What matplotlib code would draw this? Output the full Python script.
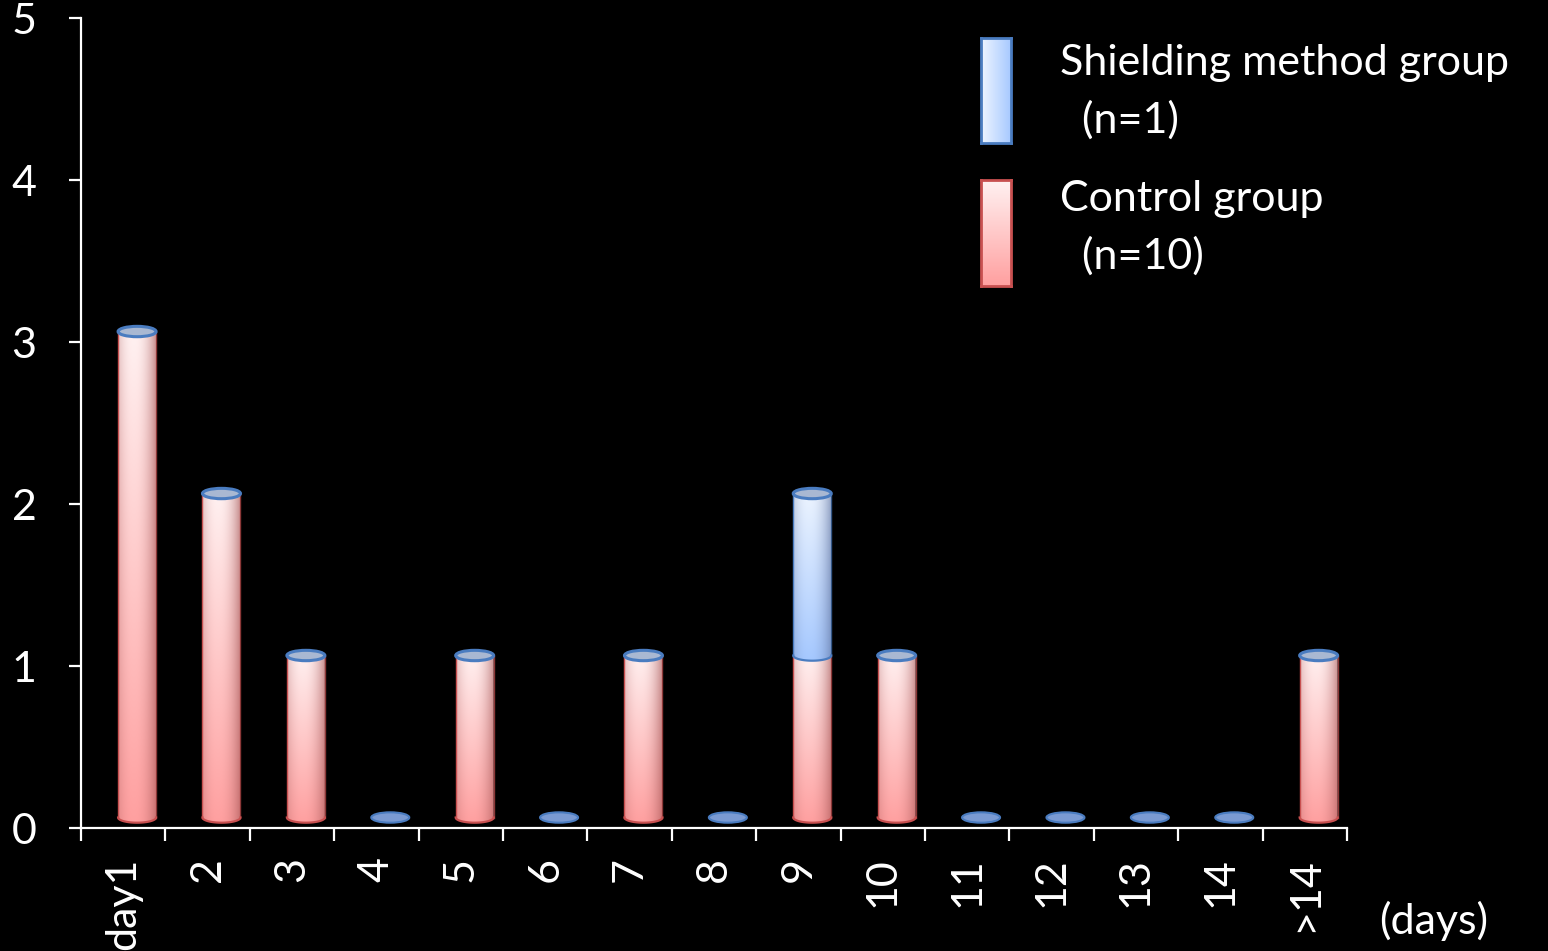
import numpy as np
import matplotlib.pyplot as plt
from matplotlib.patches import Ellipse, Polygon

plt.rcParams['font.family'] = ['Lato', 'DejaVu Sans']

days = ['day1', '2', '3', '4', '5', '6', '7', '8', '9', '10', '11', '12', '13', '14', '>14']
control = [3, 2, 1, 0, 1, 0, 1, 0, 1, 1, 0, 0, 0, 0, 1]
shielding = [0, 0, 0, 0, 0, 0, 0, 0, 1, 0, 0, 0, 0, 0, 0]
legend_labels = ['Shielding method group\n  (n=1)', 'Control group\n  (n=10)']

# cylinder look
bar_w = 0.45
cap_h = 0.032
dx, dy = 0.165, 0.065
pink = dict(top=(255, 242, 242), bottom=(255, 160, 160), dark=(165, 85, 85), edge='#c85050')
blue = dict(top=(238, 245, 255), bottom=(165, 200, 255), dark=(95, 115, 160), edge='#4a7cc0')
cap_fill = '#a9b8d2'
cap_edge = '#4a7cc0'
zero_fill = '#7a9ad2'
fs = 31


def shaded(top, bottom, dark):
    v = np.linspace(0, 1, 200)[:, None, None]
    u = np.linspace(0, 1, 80)[None, :, None]
    base = np.array(top) * (1 - v) + np.array(bottom) * v
    k = (np.clip(np.abs(u - 0.42) / 0.58, 0, 1) ** 2.2) * 0.6
    return (base * (1 - k) + np.array(dark) * k) / 255


def cylinder(ax, xc, y0, y1, style, bottom_edge, cap):
    x0, x1 = xc - bar_w / 2, xc + bar_w / 2
    t = np.linspace(0, -np.pi, 80)
    arc = np.column_stack([xc + bar_w / 2 * np.cos(t), y0 + cap_h * np.sin(t)])
    pts = np.vstack([[[x0, y1], [x1, y1]], arc])
    clip = Polygon(pts, closed=True, transform=ax.transData)
    im = ax.imshow(shaded(style['top'], style['bottom'], style['dark']),
                   extent=[x0, x1, y0 - cap_h, y1 + cap_h], aspect='auto',
                   interpolation='bilinear', zorder=2)
    im.set_clip_path(clip)
    ax.plot(arc[:, 0], arc[:, 1], color=bottom_edge, lw=1.6, zorder=3)
    ax.plot([x0, x0], [y0, y1], color=style['edge'], lw=1.0, zorder=3)
    ax.plot([x1, x1], [y0, y1], color=style['edge'], lw=1.0, alpha=0.7, zorder=3)
    if cap:
        ax.add_patch(Ellipse((xc, y1), bar_w, 2 * cap_h, fc=cap_fill, ec=cap_edge,
                             lw=2.2, zorder=4))


fig = plt.figure(figsize=(15.48, 9.51), dpi=100, facecolor='black')
ax = fig.add_axes([0.0523, 0.1293, 0.8178, 0.8517], facecolor='black')

for i in range(len(days)):
    xc = i + 0.5 + dx
    c, s = control[i], shielding[i]
    if c + s == 0:
        ax.add_patch(Ellipse((xc, dy), bar_w, 2 * cap_h, fc=zero_fill, ec=cap_edge,
                             lw=1.5, zorder=4))
        continue
    if c > 0:
        cylinder(ax, xc, dy, c + dy, pink, pink['edge'], cap=(s == 0))
    if s > 0:
        cylinder(ax, xc, c + dy, c + s + dy, blue, blue['edge'], cap=True)

ax.set_xlim(0, len(days))
ax.set_ylim(0, 5)

for side in ['top', 'right']:
    ax.spines[side].set_visible(False)
for side in ['left', 'bottom']:
    ax.spines[side].set_color('white')
    ax.spines[side].set_linewidth(1.6)

ax.set_yticks(range(6))
ax.tick_params(axis='y', colors='white', labelsize=fs, length=9, width=1.6,
               direction='out', pad=23)
ax.set_xticks(range(len(days) + 1))
ax.set_xticklabels([])
ax.set_xticks(np.arange(len(days)) + 0.5, minor=True)
ax.set_xticklabels(days, minor=True, rotation=90, va='top', ha='center')
ax.tick_params(axis='x', which='major', colors='white', length=9.5, width=1.6,
               direction='out')
ax.tick_params(axis='x', which='minor', colors='white', labelsize=fs, length=0,
               pad=21)

fig.text(0.891, 0.032, '(days)', color='white', fontsize=fs, va='center')

# legend swatches
swatches = [
    ([0.6337, 0.8496, 0.0194, 0.1104], blue, 'h'),
    ([0.6337, 0.6993, 0.0194, 0.1115], pink, 'v'),
]
for rect, style, direction in swatches:
    sax = fig.add_axes(rect)
    if direction == 'h':
        g = np.linspace(0, 1, 60)[None, :, None]
    else:
        g = np.linspace(0, 1, 60)[:, None, None]
    arr = (np.array(style['top']) * (1 - g) + np.array(style['bottom']) * g) / 255
    sax.imshow(arr, aspect='auto', interpolation='bilinear')
    sax.set_xticks([])
    sax.set_yticks([])
    for sp in sax.spines.values():
        sp.set_color(style['edge'])
        sp.set_linewidth(2)

fig.text(0.685, 0.9035, legend_labels[0], color='white', fontsize=fs, va='center',
         linespacing=1.55)
fig.text(0.685, 0.7605, legend_labels[1], color='white', fontsize=fs, va='center',
         linespacing=1.55)

fig.savefig('out.png', dpi=100, facecolor='black')
